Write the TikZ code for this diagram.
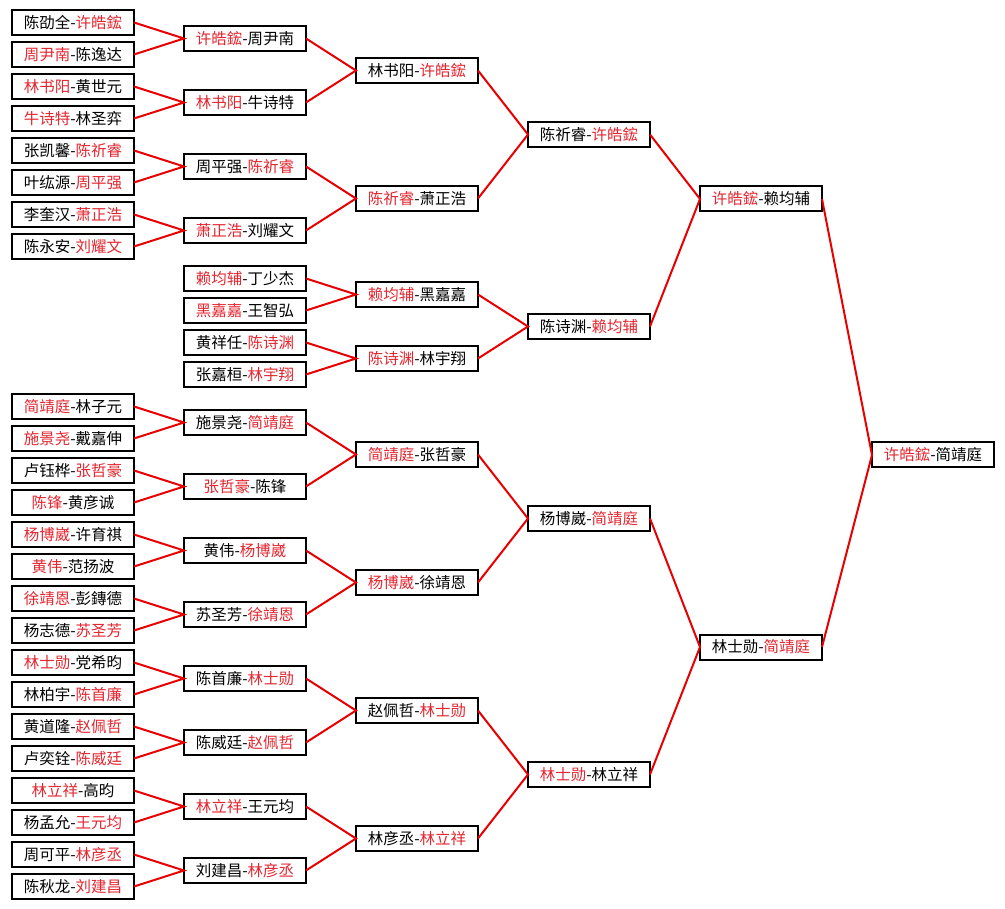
\documentclass[tikz,border=0pt]{standalone}
\usepackage{fontspec}
\usepackage{xcolor}
\newfontfamily\cjk{Noto Sans CJK SC}
\definecolor{winred}{RGB}{228,38,48}
\definecolor{linkred}{RGB}{232,0,0}
\newcommand{\win}[1]{\textcolor{winred}{#1}}
\usetikzlibrary{positioning}
\tikzset{
	MatchBox/.style={draw, line width=2pt, fill=white, minimum width=122pt, minimum height=25pt, inner sep=0pt, outer sep=0pt, font=\cjk\fontsize{15.5}{16}\selectfont},
	Link/.style={linkred, line width=2pt}
}
\begin{document}
\begin{tikzpicture}[x=1pt, y=-1pt]
		\useasboundingbox[fill=white] (0,0) rectangle (1005,909);
		% first round
		\node[MatchBox] (a1) at (73,22.5) {陈劭全-\win{许皓鋐}};
		\node[MatchBox] (a2) at (73,54.5) {\win{周尹南}-陈逸达};
		\node[MatchBox] (a3) at (73,86.5) {\win{林书阳}-黄世元};
		\node[MatchBox] (a4) at (73,118.5) {\win{牛诗特}-林圣弈};
		\node[MatchBox] (a5) at (73,150.5) {张凯馨-\win{陈祈睿}};
		\node[MatchBox] (a6) at (73,182.5) {叶纮源-\win{周平强}};
		\node[MatchBox] (a7) at (73,214.5) {李奎汉-\win{萧正浩}};
		\node[MatchBox] (a8) at (73,246.5) {陈永安-\win{刘耀文}};
		\node[MatchBox] (a9) at (73,406.5) {\win{简靖庭}-林子元};
		\node[MatchBox] (a10) at (73,438.5) {\win{施景尧}-戴嘉伸};
		\node[MatchBox] (a11) at (73,470.5) {卢钰桦-\win{张哲豪}};
		\node[MatchBox] (a12) at (73,502.5) {\win{陈锋}-黄彦诚};
		\node[MatchBox] (a13) at (73,534.5) {\win{杨博崴}-许育祺};
		\node[MatchBox] (a14) at (73,566.5) {\win{黄伟}-范扬波};
		\node[MatchBox] (a15) at (73,598.5) {\win{徐靖恩}-彭鏄德};
		\node[MatchBox] (a16) at (73,630.5) {杨志德-\win{苏圣芳}};
		\node[MatchBox] (a17) at (73,662.5) {\win{林士勋}-党希昀};
		\node[MatchBox] (a18) at (73,694.5) {林柏宇-\win{陈首廉}};
		\node[MatchBox] (a19) at (73,726.5) {黄道隆-\win{赵佩哲}};
		\node[MatchBox] (a20) at (73,758.5) {卢奕铨-\win{陈威廷}};
		\node[MatchBox] (a21) at (73,790.5) {\win{林立祥}-高昀};
		\node[MatchBox] (a22) at (73,822.5) {杨孟允-\win{王元均}};
		\node[MatchBox] (a23) at (73,854.5) {周可平-\win{林彦丞}};
		\node[MatchBox] (a24) at (73,886.5) {陈秋龙-\win{刘建昌}};
		% second round
		\node[MatchBox] (b1) at (245,38.5) {\win{许皓鋐}-周尹南};
		\node[MatchBox] (b2) at (245,102.5) {\win{林书阳}-牛诗特};
		\node[MatchBox] (b3) at (245,166.5) {周平强-\win{陈祈睿}};
		\node[MatchBox] (b4) at (245,230.5) {\win{萧正浩}-刘耀文};
		\node[MatchBox] (b5) at (245,278.5) {\win{赖均辅}-丁少杰};
		\node[MatchBox] (b6) at (245,310.5) {\win{黑嘉嘉}-王智弘};
		\node[MatchBox] (b7) at (245,342.5) {黄祥任-\win{陈诗渊}};
		\node[MatchBox] (b8) at (245,374.5) {张嘉桓-\win{林宇翔}};
		\node[MatchBox] (b9) at (245,422.5) {施景尧-\win{简靖庭}};
		\node[MatchBox] (b10) at (245,486.5) {\win{张哲豪}-陈锋};
		\node[MatchBox] (b11) at (245,550.5) {黄伟-\win{杨博崴}};
		\node[MatchBox] (b12) at (245,614.5) {苏圣芳-\win{徐靖恩}};
		\node[MatchBox] (b13) at (245,678.5) {陈首廉-\win{林士勋}};
		\node[MatchBox] (b14) at (245,742.5) {陈威廷-\win{赵佩哲}};
		\node[MatchBox] (b15) at (245,806.5) {\win{林立祥}-王元均};
		\node[MatchBox] (b16) at (245,870.5) {刘建昌-\win{林彦丞}};
		% third round
		\node[MatchBox] (c1) at (417,70.5) {林书阳-\win{许皓鋐}};
		\node[MatchBox] (c2) at (417,198.5) {\win{陈祈睿}-萧正浩};
		\node[MatchBox] (c3) at (417,294.5) {\win{赖均辅}-黑嘉嘉};
		\node[MatchBox] (c4) at (417,358.5) {\win{陈诗渊}-林宇翔};
		\node[MatchBox] (c5) at (417,454.5) {\win{简靖庭}-张哲豪};
		\node[MatchBox] (c6) at (417,582.5) {\win{杨博崴}-徐靖恩};
		\node[MatchBox] (c7) at (417,710.5) {赵佩哲-\win{林士勋}};
		\node[MatchBox] (c8) at (417,838.5) {林彦丞-\win{林立祥}};
		% quarter finals
		\node[MatchBox] (d1) at (589,134.5) {陈祈睿-\win{许皓鋐}};
		\node[MatchBox] (d2) at (589,326.5) {陈诗渊-\win{赖均辅}};
		\node[MatchBox] (d3) at (589,518.5) {杨博崴-\win{简靖庭}};
		\node[MatchBox] (d4) at (589,774.5) {\win{林士勋}-林立祥};
		% semi finals and final
		\node[MatchBox] (e1) at (761,199) {\win{许皓鋐}-赖均辅};
		\node[MatchBox] (e2) at (761,647) {林士勋-\win{简靖庭}};
		\node[MatchBox] (f) at (933,455) {\win{许皓鋐}-简靖庭};
		% links
		\draw[Link] (a1.east) -- (b1.west) -- (a2.east);
		\draw[Link] (a3.east) -- (b2.west) -- (a4.east);
		\draw[Link] (a5.east) -- (b3.west) -- (a6.east);
		\draw[Link] (a7.east) -- (b4.west) -- (a8.east);
		\draw[Link] (a9.east) -- (b9.west) -- (a10.east);
		\draw[Link] (a11.east) -- (b10.west) -- (a12.east);
		\draw[Link] (a13.east) -- (b11.west) -- (a14.east);
		\draw[Link] (a15.east) -- (b12.west) -- (a16.east);
		\draw[Link] (a17.east) -- (b13.west) -- (a18.east);
		\draw[Link] (a19.east) -- (b14.west) -- (a20.east);
		\draw[Link] (a21.east) -- (b15.west) -- (a22.east);
		\draw[Link] (a23.east) -- (b16.west) -- (a24.east);
		\draw[Link] (b1.east) -- (c1.west) -- (b2.east);
		\draw[Link] (b3.east) -- (c2.west) -- (b4.east);
		\draw[Link] (b5.east) -- (c3.west) -- (b6.east);
		\draw[Link] (b7.east) -- (c4.west) -- (b8.east);
		\draw[Link] (b9.east) -- (c5.west) -- (b10.east);
		\draw[Link] (b11.east) -- (c6.west) -- (b12.east);
		\draw[Link] (b13.east) -- (c7.west) -- (b14.east);
		\draw[Link] (b15.east) -- (c8.west) -- (b16.east);
		\draw[Link] (c1.east) -- (d1.west) -- (c2.east);
		\draw[Link] (c3.east) -- (d2.west) -- (c4.east);
		\draw[Link] (c5.east) -- (d3.west) -- (c6.east);
		\draw[Link] (c7.east) -- (d4.west) -- (c8.east);
		\draw[Link] (d1.east) -- (e1.west) -- (d2.east);
		\draw[Link] (d3.east) -- (e2.west) -- (d4.east);
		\draw[Link] (e1.east) -- (f.west) -- (e2.east);
	\end{tikzpicture}
\end{document}
